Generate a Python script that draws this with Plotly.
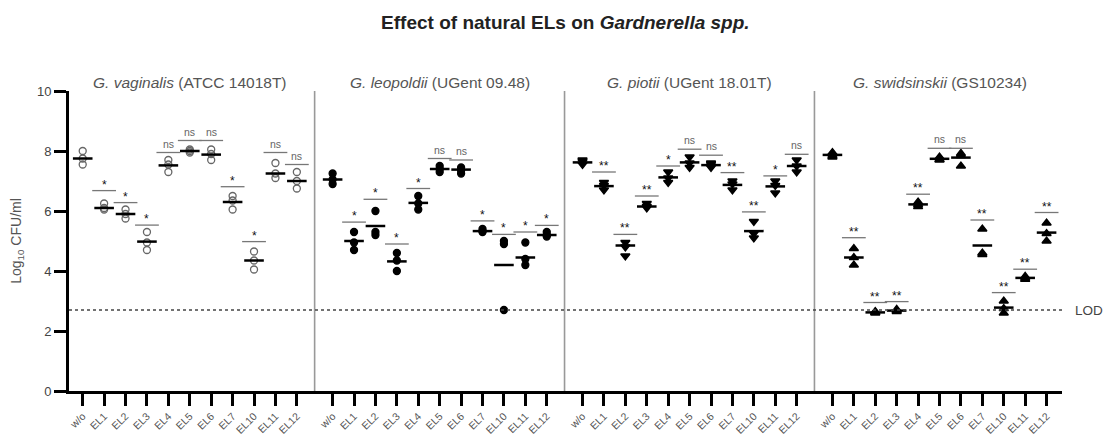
import plotly.graph_objects as go

# categories on the x axis (same for every strain)
categories = ["w/o", "EL1", "EL2", "EL3", "EL4", "EL5", "EL6", "EL7", "EL10", "EL11", "EL12"]

strains = [
    "<i>G. vaginalis</i> (ATCC 14018T)",
    "<i>G. leopoldii</i> (UGent 09.48)",
    "<i>G. piotii</i> (UGent 18.01T)",
    "<i>G. swidsinskii</i> (GS10234)",
]

# log10 CFU/ml, three replicates per treatment
vag_reps = [[8.0, 7.75, 7.55], [6.25, 6.1, 6.05], [6.05, 5.9, 5.75], [5.3, 4.95, 4.7],
            [7.7, 7.55, 7.3], [8.05, 8.0, 7.95], [8.05, 7.9, 7.7], [6.5, 6.35, 6.05],
            [4.65, 4.35, 4.05], [7.6, 7.25, 7.1], [7.3, 7.0, 6.75]]
vag_mean = [7.75, 6.1, 5.9, 4.98, 7.52, 8.0, 7.88, 6.3, 4.35, 7.25, 7.0]
vag_sig_y = [None, 6.68, 6.28, 5.53, 7.95, 8.35, 8.35, 6.81, 4.98, 7.95, 7.55]
vag_sig = ["", "*", "*", "*", "ns", "ns", "ns", "*", "*", "ns", "ns"]

leo_reps = [[7.25, 7.05, 6.9], [5.3, 4.95, 4.7], [6.0, 5.3, 5.2], [4.6, 4.35, 4.0],
            [6.5, 6.25, 6.05], [7.5, 7.4, 7.3], [7.45, 7.35, 7.25], [5.4, 5.33, 5.3],
            [5.0, 4.9, 2.7], [4.95, 4.4, 4.2], [5.3, 5.2, 5.15]]
leo_mean = [7.05, 5.0, 5.5, 4.32, 6.27, 7.4, 7.38, 5.33, 4.2, 4.45, 5.2]
leo_sig_y = [None, 5.63, 6.39, 4.9, 6.75, 7.75, 7.7, 5.67, 5.22, 5.3, 5.52]
leo_sig = ["", "*", "*", "*", "*", "ns", "ns", "*", "*", "*", "*"]

pio_reps = [[7.7, 7.65, 7.55], [6.95, 6.85, 6.7], [4.95, 4.8, 4.5], [6.25, 6.15, 6.1],
            [7.3, 7.1, 6.95], [7.8, 7.6, 7.45], [7.6, 7.55, 7.45], [7.0, 6.9, 6.7],
            [5.65, 5.25, 5.1], [7.0, 6.85, 6.6], [7.7, 7.5, 7.3]]
pio_mean = [7.62, 6.83, 4.85, 6.15, 7.12, 7.62, 7.53, 6.87, 5.33, 6.82, 7.5]
pio_sig_y = [None, 7.3, 5.22, 6.5, 7.5, 8.06, 7.86, 7.28, 5.97, 7.17, 7.89]
pio_sig = ["", "**", "**", "**", "*", "ns", "ns", "**", "**", "*", "ns"]

swi_reps = [[7.95, 7.85, 7.8], [4.75, 4.45, 4.2], [2.65, 2.62, 2.6], [2.72, 2.68, 2.65],
            [6.3, 6.22, 6.15], [7.8, 7.72, 7.7], [7.92, 7.85, 7.5], [5.4, 4.6, 4.55],
            [3.0, 2.75, 2.6], [3.82, 3.76, 3.72], [5.6, 5.25, 5.0]]
swi_mean = [7.87, 4.45, 2.62, 2.68, 6.22, 7.74, 7.78, 4.85, 2.78, 3.77, 5.28]
swi_sig_y = [None, 5.11, 2.95, 2.98, 6.56, 8.09, 8.09, 5.7, 3.28, 4.06, 5.95]
swi_sig = ["", "**", "**", "**", "**", "ns", "ns", "**", "**", "**", "**"]

lod = 2.7

groups = [
    (vag_reps, vag_mean, vag_sig_y, vag_sig),
    (leo_reps, leo_mean, leo_sig_y, leo_sig),
    (pio_reps, pio_mean, pio_sig_y, pio_sig),
    (swi_reps, swi_mean, swi_sig_y, swi_sig),
]
symbols = ["circle-open", "circle", "triangle-down", "triangle-up"]
step = 11.67  # distance between first categories of neighbouring strains

fig = go.Figure()
tickvals, ticktext = [], []
annotations = []

for g, (reps, means, sig_y, sig) in enumerate(groups):
    xs = [g * step + i for i in range(len(categories))]
    tickvals += xs
    ticktext += categories

    px_, py_ = [], []
    for x, r in zip(xs, reps):
        px_ += [x] * len(r)
        py_ += r
    fig.add_trace(go.Scatter(
        x=px_, y=py_, mode="markers",
        marker=dict(symbol=symbols[g], size=7 if g < 2 else 8,
                    color="#666" if g == 0 else "black",
                    line=dict(width=1.3, color="#666" if g == 0 else "black")),
        showlegend=False, hoverinfo="y"))

    # mean bars
    fig.add_trace(go.Scatter(
        x=xs, y=means, mode="markers",
        marker=dict(symbol="line-ew", size=14, line=dict(width=2.5, color="black")),
        showlegend=False, hoverinfo="y"))

    # significance lines + labels
    sx = [x for x, s in zip(xs, sig_y) if s is not None]
    sy = [s for s in sig_y if s is not None]
    fig.add_trace(go.Scatter(
        x=sx, y=sy, mode="markers",
        marker=dict(symbol="line-ew", size=17, line=dict(width=1.3, color="#777")),
        showlegend=False, hoverinfo="skip"))
    for x, s, lab in zip(xs, sig_y, sig):
        if s is None:
            continue
        annotations.append(dict(
            x=x, y=s, xref="x", yref="y", text=lab, showarrow=False,
            yanchor="bottom", yshift=1 if lab == "ns" else -3,
            font=dict(size=10.5 if lab == "ns" else 12,
                      color="#666" if lab == "ns" else "#111")))

    # strain title
    annotations.append(dict(
        x=g * step + 5, y=1.062, xref="x", yref="paper", text=strains[g],
        showarrow=False, font=dict(size=15.5, color="#555")))

# separators between strains
shapes = []
for g in range(1, 4):
    xsep = g * step - 0.84
    shapes.append(dict(type="line", xref="x", yref="y", x0=xsep, x1=xsep, y0=0, y1=10,
                       line=dict(color="#999", width=1.6)))

# limit of detection
shapes.append(dict(type="line", xref="paper", yref="y", x0=0, x1=1, y0=lod, y1=lod,
                   line=dict(color="#444", width=1.7, dash="dot")))
annotations.append(dict(x=1.011, y=lod, xref="paper", yref="y", text="LOD",
                        showarrow=False, xanchor="left", font=dict(size=13.5, color="#444")))

# page body keeps an 8px margin, so the figure is shifted to compensate
fig.update_layout(
    width=1095, height=432,
    margin=dict(l=61, r=41, t=83, b=49),
    plot_bgcolor="white", paper_bgcolor="white",
    font=dict(family="Arial, Liberation Sans, sans-serif", color="#333"),
    title=dict(text="<b>Effect of natural ELs on <i>Gardnerella spp.</i></b>",
               x=0.509, xanchor="center", y=1 - 14 / 432, yanchor="middle",
               font=dict(size=19, color="#222")),
    shapes=shapes, annotations=annotations,
    xaxis=dict(range=[-0.64, 45.73], tickvals=tickvals, ticktext=ticktext,
               tickangle=-45, ticks="outside", ticklen=12, tickwidth=3, tickcolor="black",
               showline=True, linecolor="black", linewidth=3, showgrid=False,
               zeroline=False, automargin=False, tickfont=dict(size=10.5, color="#555")),
    yaxis=dict(range=[0, 10], tickvals=[0, 2, 4, 6, 8, 10],
               ticks="outside", ticklen=12, tickwidth=3, tickcolor="black",
               showline=True, linecolor="black", linewidth=3, showgrid=False,
               zeroline=False, automargin=False, tickfont=dict(size=13, color="#444"),
               title=dict(text="Log<sub>10</sub> CFU/ml", font=dict(size=14, color="#555"),
                          standoff=14)),
)

fig.write_html("out.html")
